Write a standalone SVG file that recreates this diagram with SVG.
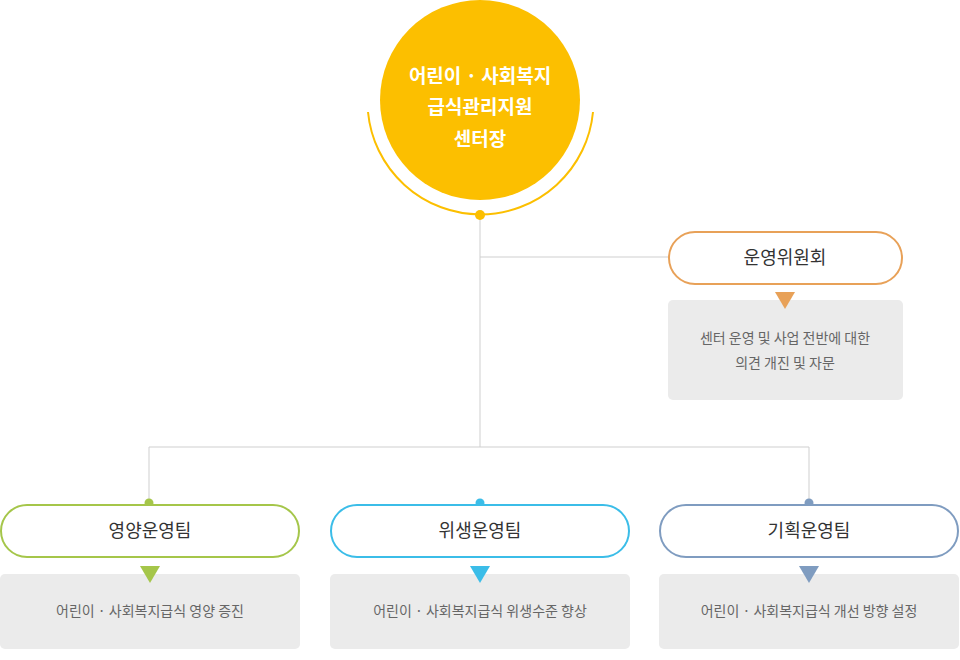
<svg xmlns="http://www.w3.org/2000/svg" width="960" height="660" viewBox="0 0 960 660">
<style>
text{font-family:"Noto Sans CJK KR","Noto Sans",sans-serif;text-anchor:middle}
.pill{fill:#fff;stroke-width:2}
.box{fill:#ebebeb}
.t{font-size:18px;fill:#333}
.d{font-size:14px;fill:#666}
.c{stroke:#cfcfcf;stroke-width:1;fill:none}
</style>
<rect width="960" height="660" fill="#fff"/>
<g id="connectors">
<path class="c" d="M480 215V447M480 257H668M149 503V447H809V503"/>
</g>
<g id="center">
<path d="M368 112A113 113 0 0 0 593 112" fill="none" stroke="#fcbf00" stroke-width="2"/>
<circle cx="480" cy="100" r="100" fill="#fcbf00"/>
<circle cx="480" cy="215" r="5" fill="#fcbf00"/>
<text x="480" y="83" font-size="19" font-weight="bold" fill="#fff">어린이 · 사회복지</text>
<text x="480" y="114" font-size="19" font-weight="bold" fill="#fff">급식관리지원</text>
<text x="480" y="146" font-size="19" font-weight="bold" fill="#fff">센터장</text>
</g>
<g id="committee">
<rect class="pill" x="669" y="232" width="233" height="52" rx="26" stroke="#e8a158"/>
<text class="t" x="785" y="264">운영위원회</text>
<rect class="box" x="668" y="300" width="235" height="100" rx="5"/>
<polygon points="775,292 795,292 785,309" fill="#e8a158"/>
<text class="d" x="785" y="343">센터 운영 및 사업 전반에 대한</text>
<text class="d" x="785" y="368">의견 개진 및 자문</text>
</g>
<g id="team1">
<circle cx="149" cy="503" r="4.5" fill="#a5c64a"/>
<rect class="pill" x="1" y="505" width="298" height="52" rx="26" stroke="#a5c64a"/>
<text class="t" x="150" y="537">영양운영팀</text>
<rect class="box" x="0" y="574" width="300" height="75" rx="5"/>
<polygon points="140,566 160,566 150,583" fill="#a5c64a"/>
<text class="d" x="150" y="616">어린이 · 사회복지급식 영양 증진</text>
</g>
<g id="team2">
<circle cx="480" cy="503" r="4.5" fill="#3bbde8"/>
<rect class="pill" x="331" y="505" width="298" height="52" rx="26" stroke="#3bbde8"/>
<text class="t" x="480" y="537">위생운영팀</text>
<rect class="box" x="330" y="574" width="300" height="75" rx="5"/>
<polygon points="470,566 490,566 480,583" fill="#3bbde8"/>
<text class="d" x="480" y="616">어린이 · 사회복지급식 위생수준 향상</text>
</g>
<g id="team3">
<circle cx="809" cy="503" r="4.5" fill="#7f9cc0"/>
<rect class="pill" x="660" y="505" width="298" height="52" rx="26" stroke="#7f9cc0"/>
<text class="t" x="809" y="537">기획운영팀</text>
<rect class="box" x="659" y="574" width="300" height="75" rx="5"/>
<polygon points="799,566 819,566 809,583" fill="#7f9cc0"/>
<text class="d" x="809" y="616">어린이 · 사회복지급식 개선 방향 설정</text>
</g>
</svg>
